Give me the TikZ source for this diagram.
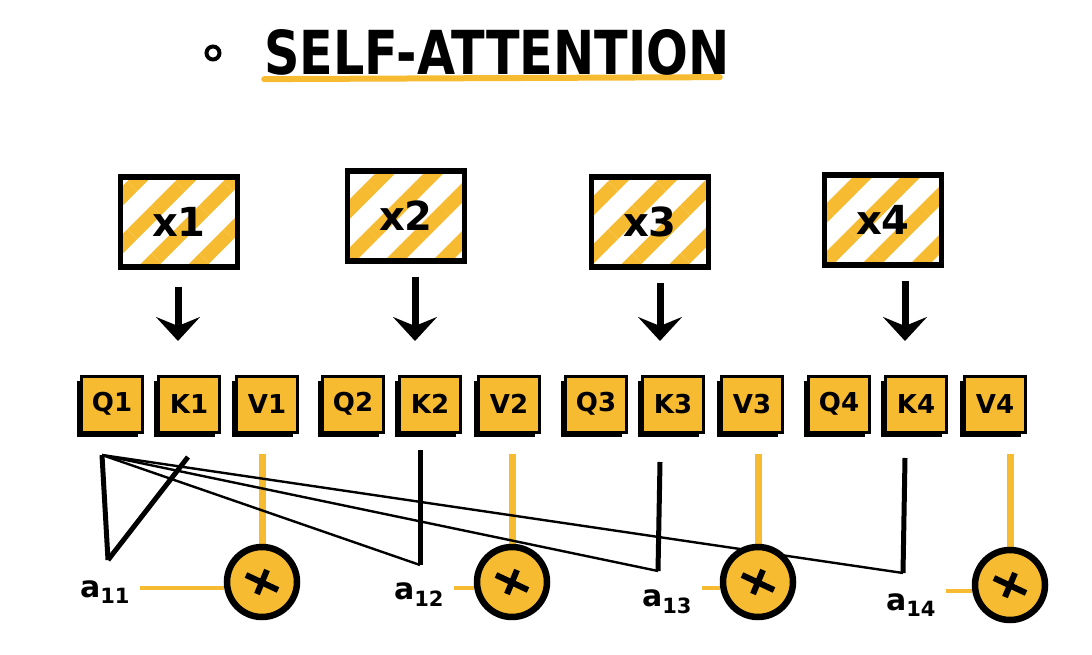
\documentclass[tikz,border=0pt]{standalone}
\usepackage{fontspec}
\setmainfont{DejaVu Sans}
\usepackage{graphicx}
\usetikzlibrary{arrows.meta, shadows, patterns.meta, backgrounds}
\definecolor{marker}{RGB}{246,187,48}

\begin{document}
\begin{tikzpicture}[x=1pt, y=-1pt,
    bigbox/.style={draw, line width=5.5pt, minimum width=117pt, minimum height=90pt,
      pattern={Lines[angle=45, distance=34pt, line width=14pt]}, pattern color=marker,
      font=\fontsize{40}{42}\selectfont\bfseries},
    smallbox/.style={draw, line width=3pt, fill=marker, minimum width=61pt, minimum height=56pt,
      general shadow={fill=black, shadow xshift=-5pt, shadow yshift=-5pt},
      font=\fontsize{26}{28}\selectfont\bfseries},
    prod/.style={circle, draw, line width=6.5pt, fill=marker, minimum size=70pt,
      path picture={
        \draw[line width=6pt] ([shift={(-16,-7)}]path picture bounding box.center)
          -- ([shift={(16,8)}]path picture bounding box.center);
        \draw[line width=6pt] ([shift={(5,-12)}]path picture bounding box.center)
          -- ([shift={(-5,12)}]path picture bounding box.center);}},
    score/.style={font=\fontsize{30}{32}\selectfont\bfseries},
    downarrow/.style={line width=7pt, -{Stealth[length=24pt, width=44pt, inset=9pt]}},
    kline/.style={line width=5pt},
    qline/.style={line width=2.4pt},
    vline/.style={marker, line width=7pt},
    aline/.style={marker, line width=4.5pt}]
  \useasboundingbox (0,0) rectangle (1092,655);

  % title
  \node[circle, draw, line width=4pt, minimum size=13pt, inner sep=0pt] (dot) at (213,53) {};
  \node[inner sep=0pt] (title) at (497,52) {\resizebox{465pt}{45pt}{\bfseries SELF-ATTENTION}};

  % inputs, projections and products
  \foreach \i/\xx/\yy/\xa/\xq/\xk/\xv/\xm/\ym in {1/179/222/178/112/189/267/262/582, 2/406/216/415/353/430/509/512/582,
      3/650/222/660/596/673/752/758/582, 4/883/220/905/839/916/995/1010/585} {
    \node[bigbox] (x\i) at (\xx,\yy) {x\i};
    \node[smallbox] (q\i) at (\xq,404) {Q\i};
    \node[smallbox] (k\i) at (\xk,404) {K\i};
    \node[smallbox] (v\i) at (\xv,404) {V\i};
    \node[prod] (m\i) at (\xm,\ym) {};
    \coordinate (c\i) at (\xa,341);
    \coordinate (h\i) at ([yshift=-6pt]m\i.west);
  }
  \node[score] (a11) at (105,592) {a\textsubscript{11}};
  \node[score] (a12) at (419,595) {a\textsubscript{12}};
  \node[score] (a13) at (667,602) {a\textsubscript{13}};
  \node[score] (a14) at (911,605) {a\textsubscript{14}};

  \coordinate (p) at (102,455);
  \coordinate (t1) at (188,457); \coordinate (b1) at (108,560);
  \coordinate (t2) at (420,450); \coordinate (b2) at (420,565);
  \coordinate (t3) at (660,462); \coordinate (b3) at (658,571);
  \coordinate (t4) at (905,458); \coordinate (b4) at (903,573);

  \foreach \i in {1,...,4}
    \draw[downarrow, shorten <=13pt] (x\i.south -| c\i) -- (c\i);

  \begin{scope}[on background layer]
    \draw[marker, line width=6pt, line cap=round] ([yshift=-4pt]title.south west) -- ([yshift=-2pt, xshift=-10pt]title.south east);
    \draw[kline] (p) -- (b1);
    \foreach \i in {1,...,4} {
      \draw[kline] (t\i) -- (b\i);
      \draw[vline, shorten <=20pt] (m\i.north |- v\i.south) -- (m\i.north);
      \draw[aline, shorten <=6pt] (a1\i.east |- h\i) -- (h\i);
    }
    \foreach \i in {2,3,4}
      \draw[qline] (p) -- (b\i);
  \end{scope}
\end{tikzpicture}
\end{document}
